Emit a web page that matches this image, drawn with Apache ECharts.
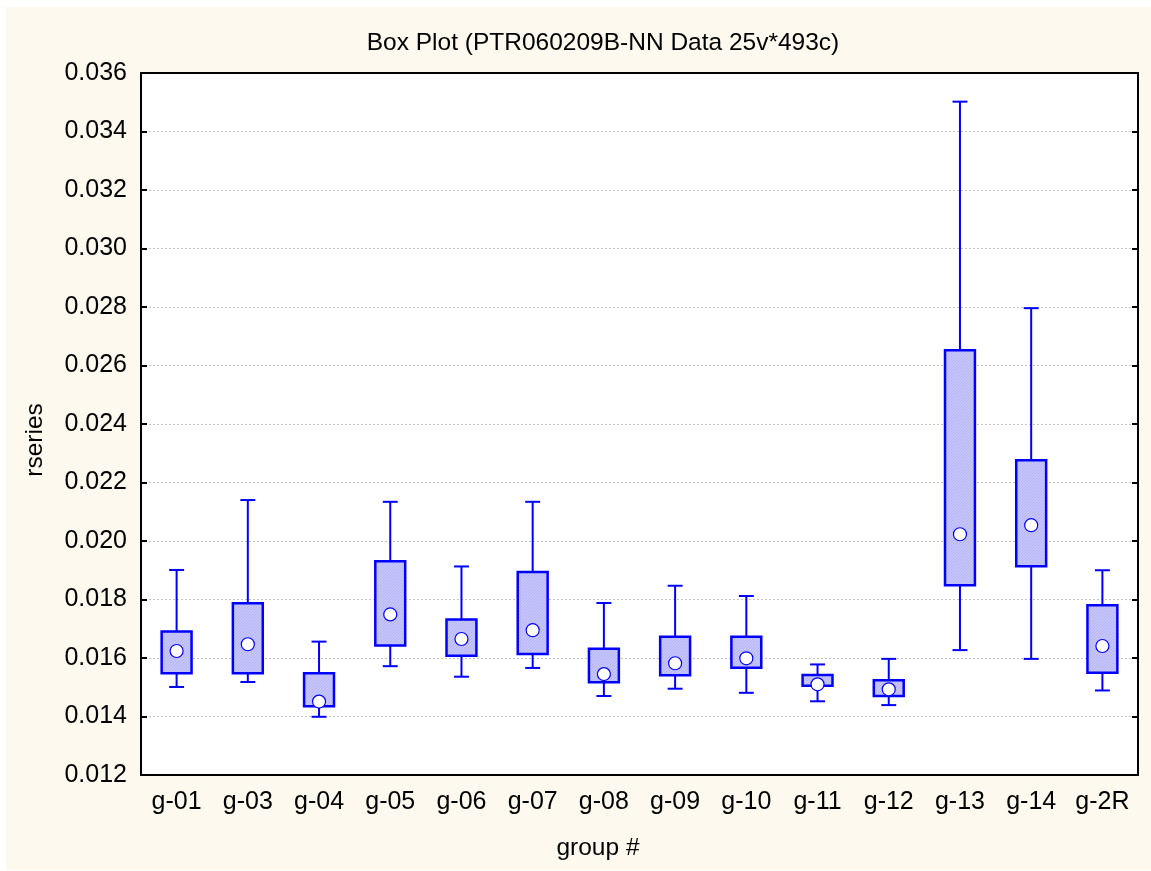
<!DOCTYPE html>
<html>
<head>
<meta charset="utf-8">
<script src="https://cdn.jsdelivr.net/npm/echarts@6/dist/echarts.min.js"></script>
<style>
  html, body { margin: 0; padding: 0; background: #ffffff; }
  #wrap { position: relative; width: 1151px; height: 871px; }
  #paper { position: absolute; left: 6px; top: 7px; width: 1145px; height: 863px; background: #fdf9ee; }
  #chart { position: absolute; left: 0; top: 0; width: 1151px; height: 871px; }
</style>
</head>
<body>
<div id="wrap">
  <div id="paper"></div>
  <div id="chart"></div>
</div>
<script>
// Groups along the x axis
const categories = ['g-01', 'g-03', 'g-04', 'g-05', 'g-06', 'g-07', 'g-08', 'g-09', 'g-10', 'g-11', 'g-12', 'g-13', 'g-14', 'g-2R'];
// Whisker ends, box edges and centre point per group
const lowerWhisker = [0.01501, 0.01518, 0.01399, 0.01572, 0.01536, 0.01566, 0.01470, 0.01495, 0.01481, 0.01452, 0.01439, 0.01627, 0.01597, 0.01489];
const boxLow       = [0.01548, 0.01548, 0.01435, 0.01643, 0.01608, 0.01614, 0.01517, 0.01541, 0.01567, 0.01505, 0.01470, 0.01849, 0.01914, 0.01550];
const centre       = [0.01624, 0.01647, 0.01451, 0.01749, 0.01665, 0.01695, 0.01545, 0.01582, 0.01599, 0.01510, 0.01493, 0.02023, 0.02054, 0.01641];
const boxHigh      = [0.01691, 0.01787, 0.01548, 0.01931, 0.01732, 0.01894, 0.01632, 0.01673, 0.01673, 0.01542, 0.01524, 0.02652, 0.02276, 0.01780];
const upperWhisker = [0.01901, 0.02140, 0.01656, 0.02134, 0.01913, 0.02134, 0.01788, 0.01847, 0.01812, 0.01578, 0.01597, 0.03502, 0.02796, 0.01900];
// Value axis range
const yMin = 0.012, yMax = 0.036, yStep = 0.002;

const rows = categories.map((c, i) => [i, lowerWhisker[i], boxLow[i], centre[i], boxHigh[i], upperWhisker[i]]);

// Fine hatched light-blue fill for the boxes
const hatch = document.createElement('canvas');
hatch.width = 3; hatch.height = 3;
(function () {
  const g = hatch.getContext('2d');
  g.fillStyle = '#c6c6fc';
  g.fillRect(0, 0, 3, 3);
  g.fillStyle = '#b4b4f4';
  g.fillRect(2, 0, 1, 1);
  g.fillRect(1, 1, 1, 1);
  g.fillRect(0, 2, 1, 1);
})();

const BLUE = '#0000ff';
const FONT = 'Liberation Sans, Arial, sans-serif';

function renderBox(params, api) {
  const i = api.value(0);
  const lo = api.coord([i, api.value(1)]);
  const q1 = api.coord([i, api.value(2)]);
  const md = api.coord([i, api.value(3)]);
  const q3 = api.coord([i, api.value(4)]);
  const hi = api.coord([i, api.value(5)]);
  const band = api.size([1, 0])[0];
  const bw = band * 0.42, cw = band * 0.21;
  const x = lo[0];
  const line = { stroke: BLUE, lineWidth: 2 };
  return {
    type: 'group',
    children: [
      { type: 'line', shape: { x1: x, y1: q1[1], x2: x, y2: lo[1] }, style: line },
      { type: 'line', shape: { x1: x - cw / 2, y1: lo[1], x2: x + cw / 2, y2: lo[1] }, style: line },
      { type: 'line', shape: { x1: x, y1: q3[1], x2: x, y2: hi[1] }, style: line },
      { type: 'line', shape: { x1: x - cw / 2, y1: hi[1], x2: x + cw / 2, y2: hi[1] }, style: line },
      { type: 'rect', shape: { x: x - bw / 2, y: q3[1], width: bw, height: q1[1] - q3[1] },
        style: { fill: { image: hatch, repeat: 'repeat' }, stroke: BLUE, lineWidth: 2.5 } },
      { type: 'circle', shape: { cx: x, cy: md[1], r: 6.5 },
        style: { fill: '#ffffff', stroke: BLUE, lineWidth: 1.2 } }
    ]
  };
}

const chart = echarts.init(document.getElementById('chart'), null, { renderer: 'canvas' });
chart.setOption({
  backgroundColor: 'transparent',
  animation: false,
  title: {
    text: 'Box Plot (PTR060209B-NN Data 25v*493c)',
    left: 598, top: 26, textAlign: 'center',
    textStyle: { fontFamily: FONT, fontSize: 24.5, fontWeight: 'normal', color: '#000' }
  },
  grid: { left: 141, top: 73, right: 13, bottom: 96, show: true, backgroundColor: '#ffffff', borderWidth: 0 },
  xAxis: [{
    type: 'category', data: categories, position: 'bottom',
    axisLine: { lineStyle: { color: '#000', width: 2 } },
    axisTick: { inside: true, length: 6, alignWithLabel: true, lineStyle: { color: '#000', width: 2 } },
    axisLabel: { fontFamily: FONT, fontSize: 25, color: '#000', margin: 15 },
    splitLine: { show: false }
  }, {
    type: 'category', data: categories, position: 'top',
    axisLine: { lineStyle: { color: '#000', width: 2 } },
    axisTick: { inside: true, length: 6, alignWithLabel: true, lineStyle: { color: '#000', width: 2 } },
    axisLabel: { show: false },
    splitLine: { show: false }
  }],
  yAxis: [{
    type: 'value', min: yMin, max: yMax, interval: yStep, position: 'left',
    axisLine: { show: true, lineStyle: { color: '#000', width: 2 } },
    axisTick: { show: true, inside: true, length: 6, lineStyle: { color: '#000', width: 2 } },
    axisLabel: { fontFamily: FONT, fontSize: 25, color: '#000', margin: 14, formatter: v => v.toFixed(3) },
    splitLine: { show: true, lineStyle: { color: '#c4c4c4', width: 1, type: [2, 2] } }
  }, {
    type: 'value', min: yMin, max: yMax, interval: yStep, position: 'right',
    axisLine: { show: true, lineStyle: { color: '#000', width: 2 } },
    axisTick: { show: true, inside: true, length: 6, lineStyle: { color: '#000', width: 2 } },
    axisLabel: { show: false },
    splitLine: { show: false }
  }],
  graphic: [
    { type: 'text', x: 35, y: 440, rotation: Math.PI / 2,
      style: { text: 'rseries', fontFamily: FONT, fontSize: 24.5, fill: '#000', align: 'center', verticalAlign: 'middle' } },
    { type: 'text', x: 598, y: 848,
      style: { text: 'group #', fontFamily: FONT, fontSize: 24.5, fill: '#000', align: 'center', verticalAlign: 'middle' } }
  ],
  series: [{
    type: 'custom',
    xAxisIndex: 0, yAxisIndex: 0,
    renderItem: renderBox,
    encode: { x: 0, y: [1, 2, 3, 4, 5] },
    data: rows,
    clip: false
  }]
});
</script>
</body>
</html>
